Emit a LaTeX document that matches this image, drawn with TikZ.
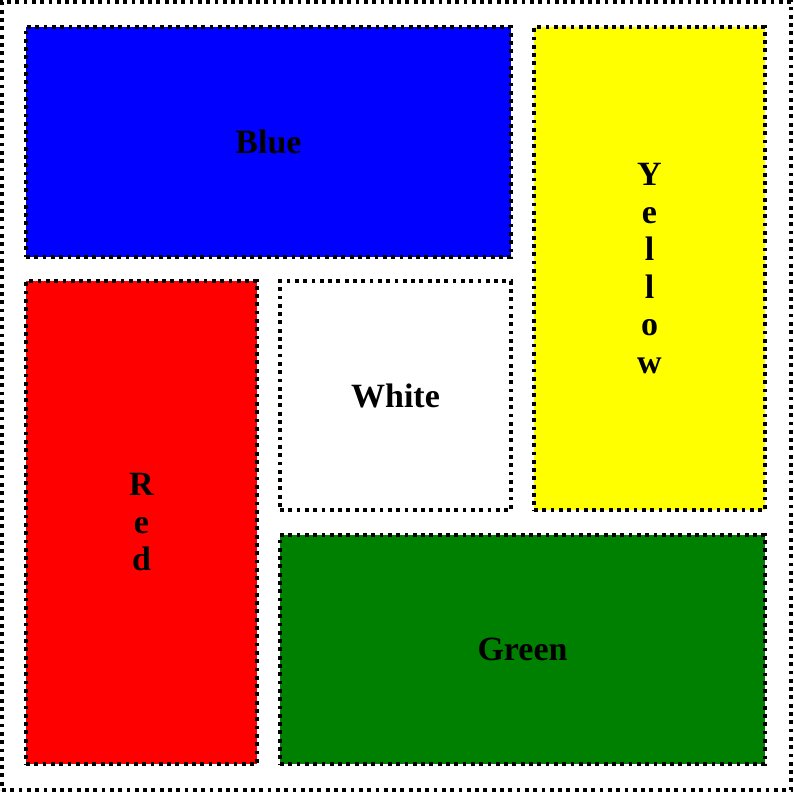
\documentclass[tikz,border=0pt]{standalone}
\usepackage{fontspec}
\setmainfont{Liberation Serif}
\definecolor{cyellow}{RGB}{255,255,0}
\definecolor{cblue}{RGB}{0,0,255}
\definecolor{cred}{RGB}{255,0,0}
\definecolor{cgreen}{RGB}{0,128,0}
\begin{document}
\begin{tikzpicture}[x=1pt,y=-1pt,
  dotline/.style={draw=black,line width=3.8pt,dash pattern=on 3.8pt off 4.5pt},
  cell/.style={dotline,rectangle,inner sep=0pt,font=\fontsize{34}{37.5}\selectfont\bfseries,align=center,text=black}]
\useasboundingbox (0,0) rectangle (794,793);
\node[dotline,rectangle,minimum width=789pt,minimum height=788pt,inner sep=0pt] (outer) at (396.5,396) {};
\node[cell,fill=cblue,minimum width=485pt,minimum height=230pt] (blue) at (268.5,142) {Blue};
\node[cell,fill=cyellow,minimum width=231pt,minimum height=483pt] (yellow) at (649.5,268.5) {Y\\e\\l\\l\\o\\w};
\node[cell,fill=cred,minimum width=231pt,minimum height=483pt] (red) at (141.5,522.5) {R\\e\\d};
\node[cell,fill=white,minimum width=231pt,minimum height=229pt] (white) at (395.5,395.5) {White};
\node[cell,fill=cgreen,minimum width=485pt,minimum height=229pt] (green) at (522.5,649.5) {Green};
\end{tikzpicture}
\end{document}
